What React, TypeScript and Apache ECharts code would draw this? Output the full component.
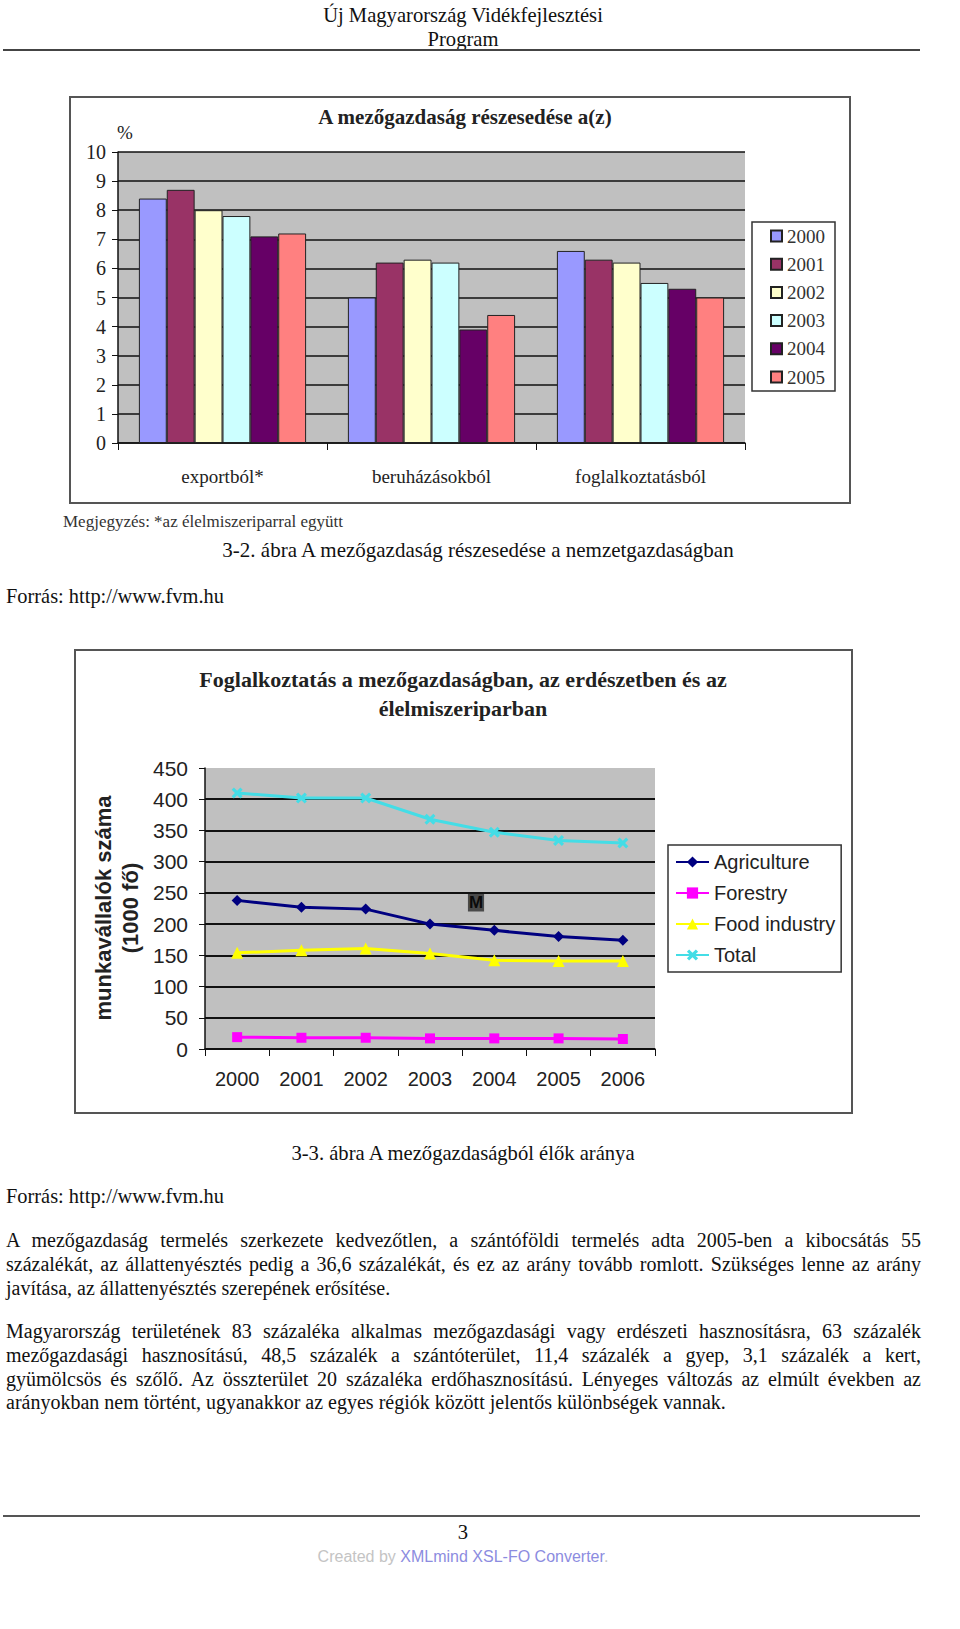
import React, { useEffect, useRef } from "react";
import * as echarts from "echarts";

// ---- Chart 1: A mezőgazdaság részesedése ----
const shareCategories = ["exportból*", "beruházásokból", "foglalkoztatásból"];
const shareYears = ["2000", "2001", "2002", "2003", "2004", "2005"];
const share2000 = [8.4, 5.0, 6.6];
const share2001 = [8.7, 6.2, 6.3];
const share2002 = [8.0, 6.3, 6.2];
const share2003 = [7.8, 6.2, 5.5];
const share2004 = [7.1, 3.9, 5.3];
const share2005 = [7.2, 4.4, 5.0];
const shareColors = ["#9999FF", "#993366", "#FFFFCC", "#CCFFFF", "#660066", "#FF8080"];

// ---- Chart 2: Foglalkoztatás ----
const empYears = ["2000", "2001", "2002", "2003", "2004", "2005", "2006"];
const agriculture = [238, 227, 224, 200, 190, 180, 174];
const forestry = [19, 18, 18, 17, 17, 17, 16];
const foodIndustry = [154, 158, 161, 153, 142, 141, 141];
const total = [410, 402, 402, 368, 347, 334, 330];
const empNames = ["Agriculture", "Forestry", "Food industry", "Total"];

const SERIF = '"Liberation Serif", "Times New Roman", serif';
const SANS = '"Liberation Sans", Arial, sans-serif';

const X_SYMBOL =
  "path://M0,2 L2,0 L5,3 L8,0 L10,2 L7,5 L10,8 L8,10 L5,7 L2,10 L0,8 L3,5 Z";

function buildOption(): any {
  const shareData = [share2000, share2001, share2002, share2003, share2004, share2005];
  const barSeries = shareYears.map((y, i) => ({
    type: "bar",
    name: y,
    xAxisIndex: 0,
    yAxisIndex: 0,
    data: shareData[i],
    barGap: "0%",
    barCategoryGap: "20%",
    itemStyle: { color: shareColors[i], borderColor: "#222", borderWidth: 1 },
  }));

  const empData = [agriculture, forestry, foodIndustry, total];
  const empColors = ["#000080", "#FF00FF", "#FFFF00", "#44DDE6"];
  const empSymbols = ["diamond", "rect", "triangle", X_SYMBOL];
  const empSizes = [11, 10, 12, 11];
  const lineSeries = empNames.map((n, i) => ({
    type: "line",
    name: n,
    xAxisIndex: 1,
    yAxisIndex: 1,
    data: empData[i],
    symbol: empSymbols[i],
    symbolSize: empSizes[i],
    lineStyle: { color: empColors[i], width: 3 },
    itemStyle: { color: empColors[i] },
    z: 3 + i,
  }));

  const splitColors2 = ["#111", "#111", "#111", "#111", "#111", "#111", "#111", "#111", "#111", "transparent"];

  return {
    animation: false,
    backgroundColor: "transparent",
    grid: [
      { left: 118, top: 152, width: 627, height: 291, show: true, backgroundColor: "#C0C0C0", borderWidth: 0 },
      { left: 205, top: 768, width: 450, height: 281, show: true, backgroundColor: "#C0C0C0", borderWidth: 0 },
    ],
    xAxis: [
      {
        type: "category",
        gridIndex: 0,
        data: shareCategories,
        axisLine: { show: true, lineStyle: { color: "#111", width: 1.5 } },
        axisTick: { show: true, length: 7, lineStyle: { color: "#111" } },
        axisLabel: { margin: 24, fontFamily: SERIF, fontSize: 19, color: "#222" },
      },
      {
        type: "category",
        gridIndex: 1,
        data: empYears,
        axisLine: { show: true, lineStyle: { color: "#111", width: 1.5 } },
        axisTick: { show: true, length: 7, lineStyle: { color: "#111" } },
        axisLabel: { margin: 20, fontFamily: SANS, fontSize: 20, color: "#222" },
      },
    ],
    yAxis: [
      {
        type: "value",
        gridIndex: 0,
        min: 0,
        max: 10,
        interval: 1,
        axisLine: { show: true, lineStyle: { color: "#111", width: 1.5 } },
        axisTick: { show: true, length: 6, lineStyle: { color: "#111" } },
        axisLabel: { margin: 12, fontFamily: SERIF, fontSize: 20, color: "#222" },
        splitLine: { show: true, lineStyle: { color: "#111", width: 1.5 } },
      },
      {
        type: "value",
        gridIndex: 1,
        min: 0,
        max: 450,
        interval: 50,
        axisLine: { show: true, lineStyle: { color: "#111", width: 1.5 } },
        axisTick: { show: true, length: 6, lineStyle: { color: "#111" } },
        axisLabel: { margin: 17, fontFamily: SANS, fontSize: 21, color: "#222" },
        splitLine: { show: true, lineStyle: { color: splitColors2, width: 2 } },
      },
    ],
    legend: [
      {
        left: 752,
        top: 222,
        orient: "vertical",
        data: shareYears,
        icon: "rect",
        itemWidth: 11,
        itemHeight: 11,
        itemGap: 8.2,
        padding: [4, 10, 4, 18],
        borderColor: "#333",
        borderWidth: 1.5,
        backgroundColor: "#fff",
        textStyle: { fontFamily: SERIF, fontSize: 19, color: "#333", lineHeight: 20 },
      },
      {
        left: 668,
        top: 845,
        orient: "vertical",
        data: empNames,
        itemWidth: 33,
        itemHeight: 14,
        itemGap: 9,
        padding: [6, 6, 6, 7],
        borderColor: "#333",
        borderWidth: 1.5,
        backgroundColor: "#fff",
        textStyle: { fontFamily: SANS, fontSize: 20, color: "#222", lineHeight: 22 },
      },
    ],
    graphic: [
      {
        type: "rect",
        shape: { x: 70, y: 97, width: 780, height: 406 },
        style: { fill: "transparent", stroke: "#555", lineWidth: 2 },
        silent: true,
      },
      {
        type: "rect",
        shape: { x: 75, y: 650, width: 777, height: 463 },
        style: { fill: "transparent", stroke: "#555", lineWidth: 2 },
        silent: true,
      },
      {
        type: "text",
        x: 465,
        y: 117,
        style: {
          text: "A mezőgazdaság részesedése a(z)",
          font: `bold 21px ${SERIF}`,
          fill: "#222",
          textAlign: "center",
          textVerticalAlign: "middle",
        },
      },
      {
        type: "text",
        x: 125,
        y: 132,
        style: { text: "%", font: `19px ${SERIF}`, fill: "#222", textAlign: "center", textVerticalAlign: "middle" },
      },
      {
        type: "text",
        x: 63,
        y: 521,
        style: {
          text: "Megjegyzés: *az élelmiszeriparral együtt",
          font: `17px ${SERIF}`,
          fill: "#333",
          textAlign: "left",
          textVerticalAlign: "middle",
        },
      },
      {
        type: "text",
        x: 463,
        y: 694,
        style: {
          text: "Foglalkoztatás a mezőgazdaságban, az erdészetben és az\nélelmiszeriparban",
          font: `bold 22px ${SERIF}`,
          lineHeight: 29,
          fill: "#222",
          textAlign: "center",
          textVerticalAlign: "middle",
        },
      },
      {
        type: "text",
        x: 117,
        y: 908,
        rotation: Math.PI / 2,
        style: {
          text: "munkavállalók száma\n(1000 fő)",
          font: `bold 22px ${SANS}`,
          lineHeight: 27,
          fill: "#222",
          textAlign: "center",
          textVerticalAlign: "middle",
        },
      },
      {
        type: "text",
        x: 476,
        y: 902,
        style: {
          text: "M",
          font: `bold 17px ${SANS}`,
          fill: "#0a0a0a",
          backgroundColor: "#4a4a4a",
          padding: [1, 1],
          textAlign: "center",
          textVerticalAlign: "middle",
        },
      },
    ],
    series: [...barSeries, ...lineSeries],
  };
}

const paragraph1 = [
  "A mezőgazdaság termelés szerkezete kedvezőtlen, a szántóföldi termelés adta 2005-ben a kibocsátás 55",
  "százalékát, az állattenyésztés pedig a 36,6 százalékát, és ez az arány tovább romlott. Szükséges lenne az arány",
  "javítása, az állattenyésztés szerepének erősítése.",
];
const paragraph1Y = [1240, 1264, 1288];
const paragraph2 = [
  "Magyarország területének 83 százaléka alkalmas mezőgazdasági vagy erdészeti hasznosításra, 63 százalék",
  "mezőgazdasági hasznosítású, 48,5 százalék a szántóterület, 11,4 százalék a gyep, 3,1 százalék a kert,",
  "gyümölcsös és szőlő. Az összterület 20 százaléka erdőhasznosítású. Lényeges változás az elmúlt években az",
  "arányokban nem történt, ugyanakkor az egyes régiók között jelentős különbségek vannak.",
];
const paragraph2Y = [1331, 1355, 1378.5, 1402];

function TextLine(props: { y: number; text: string; justify?: boolean; left?: number; width?: number; center?: boolean; size?: number }) {
  const { y, text, justify, center } = props;
  const left = props.left ?? 6;
  const width = props.width ?? 915;
  const size = props.size ?? 20;
  return (
    <div
      style={{
        position: "absolute",
        left,
        width,
        top: y - 12,
        height: 24,
        lineHeight: "24px",
        fontSize: size,
        whiteSpace: "nowrap",
        textAlign: center ? "center" : justify ? "justify" : "left",
        textAlignLast: center ? "center" : justify ? "justify" : "left",
      } as any}
    >
      {text}
    </div>
  );
}

export default function App() {
  const ref = useRef<HTMLDivElement>(null);
  useEffect(() => {
    if (!ref.current) return;
    const chart = echarts.init(ref.current, null, { renderer: "svg" });
    chart.setOption(buildOption());
    return () => chart.dispose();
  }, []);

  return (
    <div
      style={{
        position: "absolute",
        left: 0,
        top: 0,
        width: 960,
        height: 1629,
        background: "#fff",
        fontFamily: SERIF,
        color: "#111",
        overflow: "hidden",
      }}
    >
      <div ref={ref} style={{ position: "absolute", left: 0, top: 0, width: 960, height: 1629 }} />

      <TextLine y={15} text="Új Magyarország Vidékfejlesztési" center left={3} width={920} size={20.6} />
      <TextLine y={39} text="Program" center left={3} width={920} size={20.6} />
      <div style={{ position: "absolute", left: 3, top: 49, width: 917, height: 2, background: "#444" }} />

      <TextLine y={550} text="3-2. ábra A mezőgazdaság részesedése a nemzetgazdaságban" center left={0} width={956} size={21} />
      <TextLine y={596} text="Forrás: http://www.fvm.hu" size={20.4} />

      <TextLine y={1153} text="3-3. ábra A mezőgazdaságból élők aránya" center left={3} width={920} size={20.6} />
      <TextLine y={1196} text="Forrás: http://www.fvm.hu" size={20.4} />

      {paragraph1.map((t, i) => (
        <TextLine key={"p1" + i} y={paragraph1Y[i]} text={t} justify={i < paragraph1.length - 1} />
      ))}
      {paragraph2.map((t, i) => (
        <TextLine key={"p2" + i} y={paragraph2Y[i]} text={t} justify={i < paragraph2.length - 1} />
      ))}

      <div style={{ position: "absolute", left: 3, top: 1515, width: 917, height: 2, background: "#555" }} />
      <TextLine y={1532} text="3" center left={3} width={920} size={20.6} />
      <div
        style={{
          position: "absolute",
          left: 3,
          width: 920,
          top: 1547,
          height: 20,
          lineHeight: "20px",
          textAlign: "center",
          fontFamily: SANS,
          fontSize: 16,
          whiteSpace: "nowrap",
        }}
      >
        <span style={{ color: "#C4C4C4" }}>Created by </span>
        <span style={{ color: "#8C8CE0" }}>XMLmind XSL-FO Converter</span>
        <span style={{ color: "#C4C4C4" }}>.</span>
      </div>
    </div>
  );
}
